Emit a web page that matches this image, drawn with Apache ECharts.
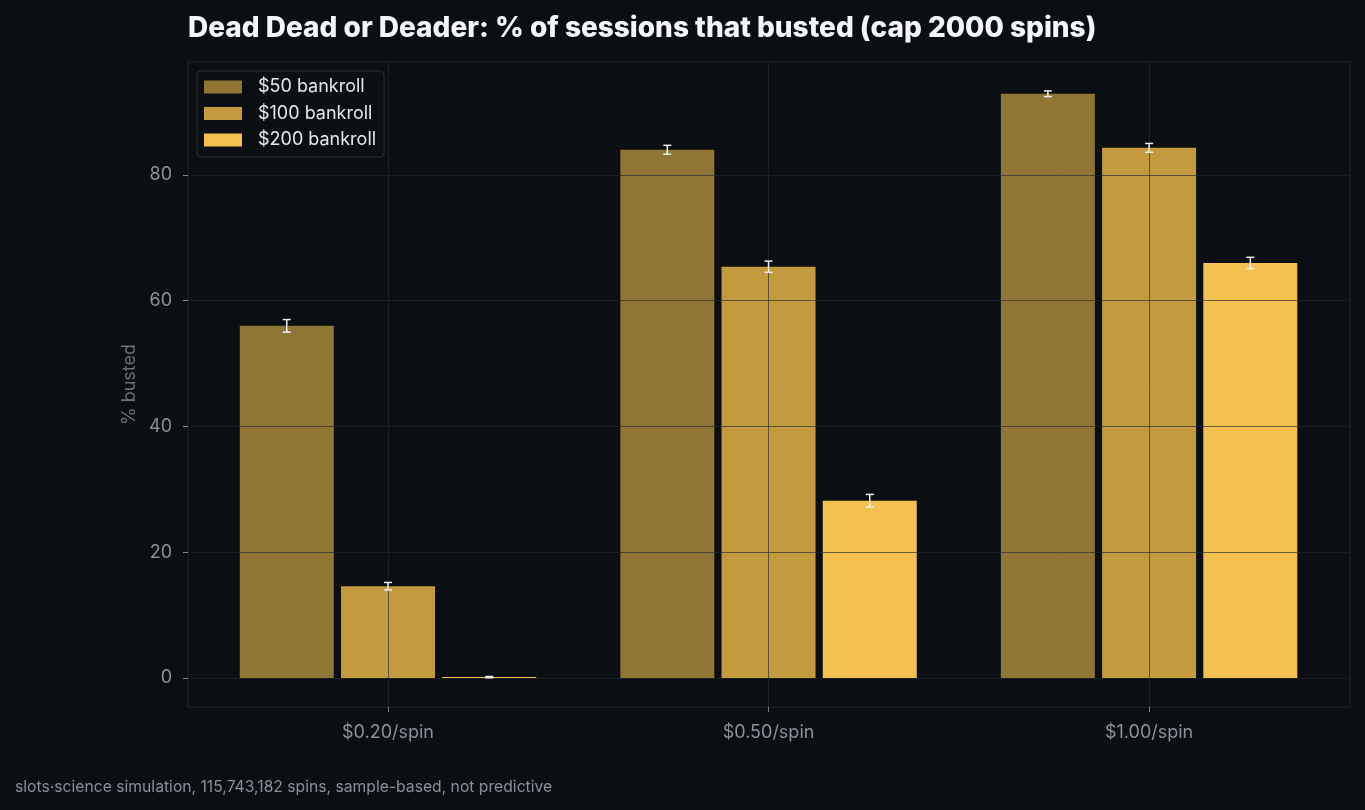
<!DOCTYPE html>
<html>
<head>
<meta charset="utf-8">
<script src="https://cdn.jsdelivr.net/npm/echarts@6/dist/echarts.min.js"></script>
<style>
html,body{margin:0;padding:0;background:#0b0e13;}
#chart{width:1365px;height:810px;}
</style>
</head>
<body>
<div id="chart"></div>
<script>
const categories = ['$0.20/spin', '$0.50/spin', '$1.00/spin'];
const seriesNames = ['$50 bankroll', '$100 bankroll', '$200 bankroll'];
const bust50 = [56.0, 84.0, 92.9];
const bust100 = [14.6, 65.4, 84.3];
const bust200 = [0.15, 28.2, 66.0];
const err50 = [1.0, 0.7, 0.45];
const err100 = [0.6, 0.9, 0.7];
const err200 = [0.1, 1.0, 0.9];
const yTicks = [0, 20, 40, 60, 80];
const xTicks = [0, 1, 2];

const values = [bust50, bust100, bust200];
const errors = [err50, err100, err200];
const colors = ['#8f7634', '#c39b3e', '#f4c04f'];
const offsets = [-0.266, 0, 0.266];
const barW = 0.247;

const chart = echarts.init(document.getElementById('chart'), null, {renderer: 'canvas'});

const barSeries = seriesNames.map((name, s) => ({
  type: 'custom',
  name: name,
  z: 2,
  itemStyle: {color: colors[s]},
  data: values[s].map((v, i) => [i, v]),
  encode: {x: 0, y: 1},
  renderItem: function (params, api) {
    const xc = api.value(0) + offsets[s];
    const p0 = api.coord([xc - barW / 2, api.value(1)]);
    const p1 = api.coord([xc + barW / 2, 0]);
    return {
      type: 'rect',
      shape: {x: p0[0], y: p0[1], width: p1[0] - p0[0], height: p1[1] - p0[1]},
      style: {fill: colors[s]}
    };
  }
}));

const errData = [];
values.forEach((arr, s) => arr.forEach((v, i) => errData.push([i, v, errors[s][i], s])));

const errSeries = {
  type: 'custom',
  name: 'err',
  z: 10,
  silent: true,
  data: errData,
  encode: {x: 0, y: 1},
  renderItem: function (params, api) {
    const s = api.value(3);
    const x = api.value(0) + offsets[s];
    const v = api.value(1), e = api.value(2);
    const top = api.coord([x, v + e]);
    const bot = api.coord([x, v - e]);
    const cap = 4;
    const st = {stroke: '#f0f0f0', lineWidth: 1.5};
    return {
      type: 'group',
      children: [
        {type: 'line', shape: {x1: top[0], y1: top[1], x2: bot[0], y2: bot[1]}, style: st},
        {type: 'line', shape: {x1: top[0] - cap, y1: top[1], x2: top[0] + cap, y2: top[1]}, style: st},
        {type: 'line', shape: {x1: bot[0] - cap, y1: bot[1], x2: bot[0] + cap, y2: bot[1]}, style: st}
      ]
    };
  }
};

const gridLineStyle = {color: 'rgba(34,40,49,0.65)', width: 1};

chart.setOption({
  backgroundColor: '#0b0e13',
  animation: false,
  textStyle: {fontFamily: 'Inter'},
  title: {
    text: 'Dead Dead or Deader: % of sessions that busted (cap 2000 spins)',
    left: 188, top: 15, padding: 0,
    textStyle: {color: '#f5f6f8', fontSize: 28, fontWeight: 800, fontFamily: 'Inter'}
  },
  graphic: [{
    type: 'text', left: 15, top: 779,
    style: {text: 'slots·science simulation, 115,743,182 spins, sample-based, not predictive', fill: '#8a9099', font: '15.7px Inter'}
  }],
  legend: {
    data: seriesNames,
    orient: 'vertical',
    left: 197, top: 71,
    padding: [7, 8, 8, 7],
    itemWidth: 38, itemHeight: 13, itemGap: 8.5,
    icon: 'rect',
    backgroundColor: '#0b0e13',
    borderColor: '#2a2f38', borderWidth: 1, borderRadius: 4,
    textStyle: {color: '#e6e7ea', fontSize: 18, fontFamily: 'Inter', padding: [0, 0, 0, 11]}
  },
  grid: {
    left: 188, right: 15, top: 62, bottom: 103,
    show: true, borderColor: '#1f242c', borderWidth: 1.2, backgroundColor: 'transparent'
  },
  xAxis: {
    type: 'value', min: -0.5256, max: 2.528, z: 5,
    axisLine: {show: false, onZero: false},
    axisTick: {show: true, customValues: xTicks, length: 5, lineStyle: {color: '#7d838c'}},
    axisLabel: {customValues: xTicks, formatter: v => categories[Math.round(v)], color: '#8b9099', fontSize: 18, margin: 17, fontFamily: 'Inter'},
    splitLine: {show: true, lineStyle: gridLineStyle}
  },
  yAxis: {
    type: 'value', min: -4.6, max: 97.95, z: 5,
    name: '% busted', nameLocation: 'middle', nameGap: 48,
    nameTextStyle: {color: '#6b7079', fontSize: 18, fontFamily: 'Inter'},
    axisLine: {show: false, onZero: false},
    axisTick: {show: true, customValues: yTicks, length: 5, lineStyle: {color: '#7d838c'}},
    axisLabel: {customValues: yTicks, color: '#8b9099', fontSize: 18, margin: 16, fontFamily: 'Inter'},
    splitLine: {show: true, lineStyle: gridLineStyle}
  },
  series: barSeries.concat([errSeries])
});
</script>
</body>
</html>
